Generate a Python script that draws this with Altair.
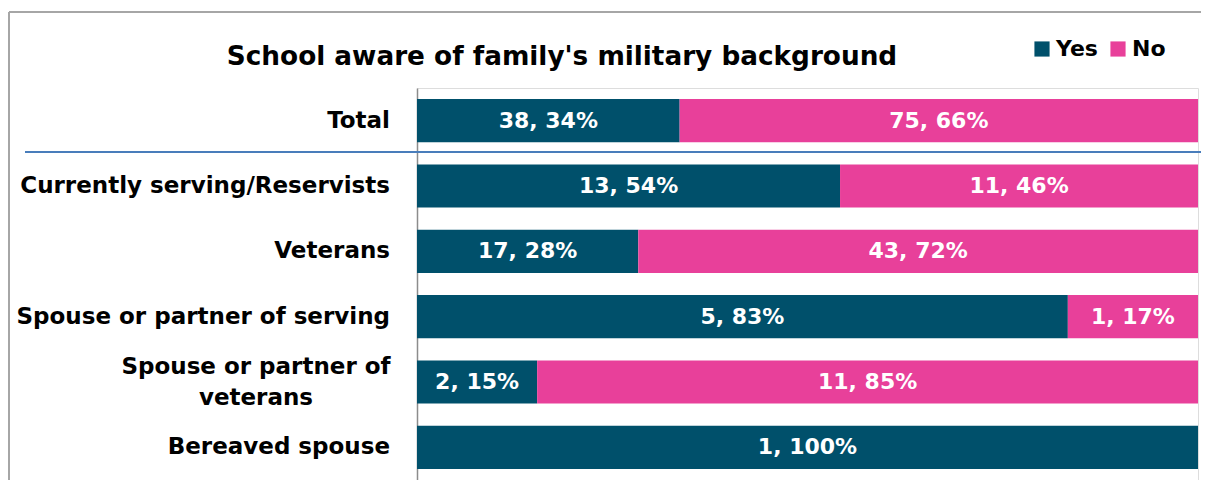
import altair as alt
import pandas as pd

categories = ["Total", "Currently serving/Reservists", "Veterans",
              "Spouse or partner of serving", "Spouse or partner of veterans",
              "Bereaved spouse"]
yes_counts = [38, 13, 17, 5, 2, 1]
no_counts = [75, 11, 43, 1, 11, 0]
yes_pct = [34, 54, 28, 83, 15, 100]
no_pct = [66, 46, 72, 17, 85, 0]
series = ["Yes", "No"]
colors = ["#00506B", "#E8409A"]
title_text = "School aware of family's military background"

rows = []
for i, c in enumerate(categories):
    rows.append({"cat": c, "series": "Yes", "order": 0, "n": yes_counts[i], "pct": yes_pct[i]})
    rows.append({"cat": c, "series": "No", "order": 1, "n": no_counts[i], "pct": no_pct[i]})
df = pd.DataFrame(rows)
df = df[df["n"] > 0]
df["label"] = df["n"].astype(str) + ", " + df["pct"].astype(str) + "%"

cat_df = pd.DataFrame({"cat": categories,
                       "disp": [c if c != "Spouse or partner of veterans" else "Spouse or partner of\nveterans" for c in categories]})

FONT = "DejaVu Sans"
yscale = alt.Scale(domain=categories, paddingInner=0.34, paddingOuter=0.17)
xscale = alt.Scale(domain=[0, 1])

base = alt.Chart(df)
bars = base.mark_bar().encode(
    y=alt.Y("cat:N", scale=yscale, sort=categories,
            axis=alt.Axis(labels=False, ticks=False, title=None, domainColor="#8C8C8C",
                          domainWidth=1.5, grid=False)),
    x=alt.X("n:Q", stack="normalize", axis=None, scale=xscale),
    color=alt.Color("series:N", scale=alt.Scale(domain=series, range=colors),
                    legend=alt.Legend(title=None, orient="none", legendX=614, legendY=-50,
                                      direction="horizontal", symbolType="square",
                                      symbolSize=230, symbolStrokeWidth=0,
                                      labelFontSize=22, labelFont=FONT, labelFontWeight="bold",
                                      labelColor="#000000", labelOffset=3, columnPadding=9)),
    order=alt.Order("order:Q"),
)

text = base.transform_stack(
    stack="n", groupby=["cat"], as_=["x0", "x1"], sort=[alt.SortField("order")], offset="normalize"
).transform_calculate(xm="(datum.x0 + datum.x1) / 2").mark_text(
    color="white", font=FONT, fontWeight="bold", fontSize=22, baseline="middle"
).encode(
    y=alt.Y("cat:N", scale=yscale, sort=categories),
    x=alt.X("xm:Q", scale=xscale, axis=None),
    text="label:N",
)

cat_base = alt.Chart(cat_df)
labels_single = cat_base.transform_filter(
    "datum.cat != 'Spouse or partner of veterans'"
).mark_text(align="right", baseline="middle", font=FONT, fontWeight="bold",
            fontSize=23, color="#000000").encode(
    y=alt.Y("cat:N", scale=yscale, sort=categories),
    x=alt.value(-27),
    text="disp:N",
)
labels_multi = cat_base.transform_filter(
    "datum.cat == 'Spouse or partner of veterans'"
).mark_text(align="center", baseline="middle", font=FONT, fontWeight="bold",
            fontSize=23, color="#000000", lineBreak="\n", lineHeight=31, dy=-15).encode(
    y=alt.Y("cat:N", scale=yscale, sort=categories),
    x=alt.value(-161),
    text="disp:N",
)

title = alt.Chart(pd.DataFrame({"t": [title_text]})).mark_text(
    align="center", baseline="alphabetic", font=FONT, fontWeight="bold", fontSize=26.3, color="#000000"
).encode(x=alt.value(145), y=alt.value(-23), text="t:N")

sep = alt.Chart(cat_df).mark_rule(color="#4A7EBB", strokeWidth=1.5).encode(
    x=alt.value(-392), x2=alt.value(788), y=alt.value(64))
border_top = alt.Chart(cat_df).mark_rule(color="#A6A6A6", strokeWidth=1.5).encode(
    x=alt.value(-408), x2=alt.value(800), y=alt.value(-76))
border_left = alt.Chart(cat_df).mark_rule(color="#A6A6A6", strokeWidth=1.5).encode(
    x=alt.value(-408), y=alt.value(-76), y2=alt.value(400))

chart = alt.layer(border_top, border_left, sep, bars, text, labels_single, labels_multi, title).properties(
    width=781, height=392,
    autosize=alt.AutoSizeParams(type="none"),
    padding={"left": 409, "top": 80, "right": 3, "bottom": 0},
).configure_view(stroke=None).configure(background="white")

chart.save("out.html", embed_options={"renderer": "svg", "actions": False})
